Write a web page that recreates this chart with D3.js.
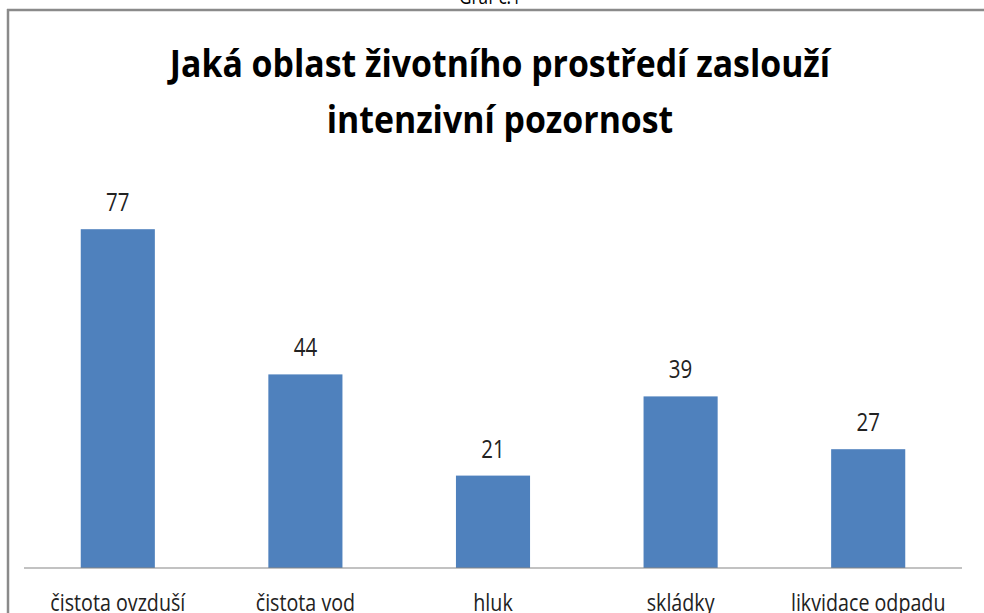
<!DOCTYPE html>
<html>
<head>
<meta charset="utf-8">
<script src="https://cdn.jsdelivr.net/npm/d3@7"></script>
<style>
  html, body { margin: 0; padding: 0; background: #fff; }
  svg { display: block; }
  text { font-family: "Open Sans", "Liberation Sans", sans-serif; }
</style>
</head>
<body>
<svg id="chart" width="984" height="613"></svg>
<script>
// Survey answers: which environmental area deserves intensive attention
const categories = ["čistota ovzduší", "čistota vod", "hluk", "skládky", "likvidace odpadu"];
const values = [77, 44, 21, 39, 27];
const titleLines = ["Jaká oblast životního prostředí zaslouží", "intenzivní pozornost"];
const caption = "Graf č.1";

const W = 984, H = 613;
const plot = { left: 24, right: 962, top: 172, bottom: 568 };
const barColor = "#4F81BD";
const squeeze = 0.82;      // narrow letterforms of the chart typeface
const titleSqueeze = 0.89;

const svg = d3.select("#chart");

const x = d3.scaleBand()
  .domain(categories)
  .range([plot.left, plot.right])
  .paddingInner(0.605)
  .paddingOuter(0.3025);

const y = d3.scaleLinear()
  .domain([0, 90])
  .range([plot.bottom, plot.top]);

// helper: horizontally condensed, centred text
function squeezedText(sel, cx, cy, str, size, weight, fill, sx = squeeze) {
  sel.append("text")
    .attr("transform", `translate(${cx},${cy}) scale(${sx},1)`)
    .attr("text-anchor", "middle")
    .attr("font-size", size)
    .attr("font-weight", weight)
    .attr("fill", fill)
    .text(str);
}

// caption above the frame (mostly cut off by the page edge)
squeezedText(svg, 490, 4, caption, 21, 400, "#000");

// chart frame
svg.append("line").attr("x1", 7).attr("x2", W).attr("y1", 10).attr("y2", 10)
  .attr("stroke", "#8a8a8a").attr("stroke-width", 2.5);
svg.append("line").attr("x1", 8).attr("x2", 8).attr("y1", 9).attr("y2", H)
  .attr("stroke", "#8a8a8a").attr("stroke-width", 2.5);

// title
const titleG = svg.append("g");
squeezedText(titleG, 500, 77, titleLines[0], 38, 700, "#000", titleSqueeze);
squeezedText(titleG, 500, 133, titleLines[1], 38, 700, "#000", titleSqueeze);

// bars
svg.append("g").selectAll("rect")
  .data(values)
  .join("rect")
  .attr("x", (d, i) => x(categories[i]))
  .attr("width", x.bandwidth())
  .attr("y", d => y(d))
  .attr("height", d => y(0) - y(d))
  .attr("fill", barColor);

// value labels
const labels = svg.append("g");
values.forEach((v, i) => {
  squeezedText(labels, x(categories[i]) + x.bandwidth() / 2, y(v) - 18, String(v), 25, 400, "#222");
});

// category axis
const xAxis = d3.axisBottom(x).tickSize(0).tickPadding(0);
const axisG = svg.append("g")
  .attr("transform", `translate(0,${plot.bottom})`)
  .call(xAxis);
axisG.select(".domain").attr("stroke", "#868686").attr("stroke-width", 1.2)
  .attr("d", `M${plot.left},0H${plot.right}`);
axisG.selectAll(".tick text").remove();
axisG.selectAll(".tick").each(function(d) {
  d3.select(this).append("text")
    .attr("transform", `translate(0,43) scale(${squeeze},1)`)
    .attr("text-anchor", "middle")
    .attr("font-size", 24)
    .attr("fill", "#222")
    .text(d);
});
</script>
</body>
</html>
